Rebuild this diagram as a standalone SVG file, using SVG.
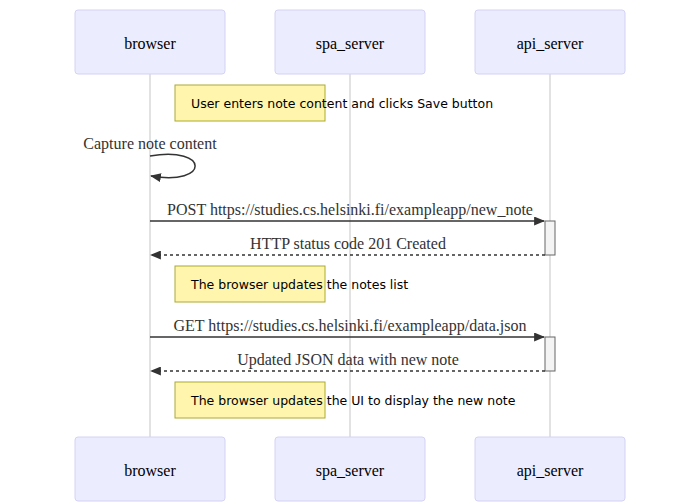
<svg xmlns="http://www.w3.org/2000/svg" width="675" height="504" viewBox="0 0 675 504">
<style>
.actor{fill:#ececff;stroke:#d4d2f5;stroke-width:1}
.atext{font-family:"Liberation Serif",serif;font-size:16px;fill:#000;text-anchor:middle;dominant-baseline:central}
.life{stroke:#d9d9d9;stroke-width:1.5}
.note{fill:#fff5ad;stroke:#aaaa33;stroke-width:1}
.ntext{font-family:"DejaVu Sans",sans-serif;font-size:12.5px;fill:#000}
.msg{stroke:#333;stroke-width:1.5;fill:none}
.dash{stroke-dasharray:3,3}
.mtext{font-family:"Liberation Serif",serif;font-size:16px;fill:#333;text-anchor:middle}
.act{fill:#f4f4f4;stroke:#666;stroke-width:1}
</style>
<defs>
<marker id="arrow" viewBox="0 0 12 10" refX="11" refY="5" markerWidth="11" markerHeight="9" markerUnits="userSpaceOnUse" orient="auto">
<path d="M0,0 L12,5 L0,10 z" fill="#333"/>
</marker>
</defs>
<g id="lifelines">
<line class="life" x1="150" y1="74" x2="150" y2="437"/>
<line class="life" x1="350" y1="74" x2="350" y2="437"/>
<line class="life" x1="550" y1="74" x2="550" y2="437"/>
</g>
<g id="actor-browser-top"><rect class="actor" x="75" y="10" width="150" height="64" rx="3"/><text class="atext" x="150" y="43">browser</text></g>
<g id="actor-spa-top"><rect class="actor" x="275" y="10" width="150" height="64" rx="3"/><text class="atext" x="350" y="43">spa_server</text></g>
<g id="actor-api-top"><rect class="actor" x="475" y="10" width="150" height="64" rx="3"/><text class="atext" x="550" y="43">api_server</text></g>
<g id="actor-browser-bottom"><rect class="actor" x="75" y="437" width="150" height="64" rx="3"/><text class="atext" x="150" y="470">browser</text></g>
<g id="actor-spa-bottom"><rect class="actor" x="275" y="437" width="150" height="64" rx="3"/><text class="atext" x="350" y="470">spa_server</text></g>
<g id="actor-api-bottom"><rect class="actor" x="475" y="437" width="150" height="64" rx="3"/><text class="atext" x="550" y="470">api_server</text></g>
<g id="activations">
<rect class="act" x="545" y="221" width="10" height="34"/>
<rect class="act" x="545" y="337" width="10" height="34"/>
</g>
<g id="note1"><rect class="note" x="175" y="85" width="150" height="36"/><text class="ntext" x="191" y="108">User enters note content and clicks Save button</text></g>
<g id="note2"><rect class="note" x="175" y="266" width="150" height="36"/><text class="ntext" x="191" y="289">The browser updates the notes list</text></g>
<g id="note3"><rect class="note" x="175" y="382" width="150" height="36"/><text class="ntext" x="191" y="405">The browser updates the UI to display the new note</text></g>
<g id="connectors">
<path class="msg" d="M150,156 C210,146 210,186 151,176" marker-end="url(#arrow)"/>
<text class="mtext" x="150" y="149">Capture note content</text>
<line class="msg" x1="150" y1="221" x2="544" y2="221" marker-end="url(#arrow)"/>
<text class="mtext" x="350" y="215">POST https://studies.cs.helsinki.fi/exampleapp/new_note</text>
<line class="msg dash" x1="545" y1="255" x2="151" y2="255" marker-end="url(#arrow)"/>
<text class="mtext" x="348" y="249">HTTP status code 201 Created</text>
<line class="msg" x1="150" y1="337" x2="544" y2="337" marker-end="url(#arrow)"/>
<text class="mtext" x="350" y="331">GET https://studies.cs.helsinki.fi/exampleapp/data.json</text>
<line class="msg dash" x1="545" y1="371" x2="151" y2="371" marker-end="url(#arrow)"/>
<text class="mtext" x="348" y="365">Updated JSON data with new note</text>
</g>
</svg>
